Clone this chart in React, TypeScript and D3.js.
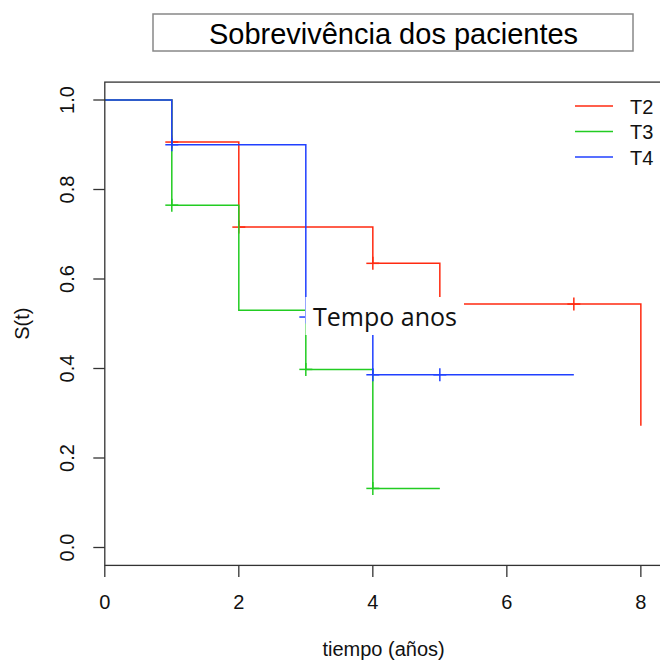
import React from "react";
import * as d3 from "d3";

// ---- data ----
const seriesNames = ["T2", "T3", "T4"];
const seriesColors = ["#ff2a10", "#22cc22", "#2040ff"];

// step times (event times) and survival after each step
const t2Times = [0, 1, 2, 4, 5, 8];
const t2Surv = [1.0, 0.906, 0.716, 0.635, 0.544, 0.272];
const t2End = 8;
const t2Censor = [1, 2, 4, 7];

const t3Times = [0, 1, 2, 3, 4];
const t3Surv = [1.0, 0.765, 0.53, 0.398, 0.132];
const t3End = 5;
const t3Censor = [1, 3, 4];

const t4Times = [0, 1, 3, 4];
const t4Surv = [1.0, 0.9, 0.515, 0.386];
const t4End = 7;
const t4Censor = [1, 3, 4, 5];

const xTicks = [0, 2, 4, 6, 8];
const yTicks = [0, 0.2, 0.4, 0.6, 0.8, 1.0];

const titleText = "Sobrevivência dos pacientes";
const xLabel = "tiempo (años)";
const yLabel = "S(t)";
const noteText = "Tempo anos";

// ---- layout ----
const W = 660;
const H = 664;
const FONT = "'Liberation Sans', Arial, Helvetica, sans-serif";

const x = d3.scaleLinear().domain([0, 8.32]).range([104.8, 662.3]);
const y = d3.scaleLinear().domain([-0.04, 1.04]).range([565.4, 82.1]);

type Series = {
  name: string;
  color: string;
  times: number[];
  surv: number[];
  end: number;
  censor: number[];
};

const series: Series[] = [
  { name: seriesNames[0], color: seriesColors[0], times: t2Times, surv: t2Surv, end: t2End, censor: t2Censor },
  { name: seriesNames[1], color: seriesColors[1], times: t3Times, surv: t3Surv, end: t3End, censor: t3Censor },
  { name: seriesNames[2], color: seriesColors[2], times: t4Times, surv: t4Surv, end: t4End, censor: t4Censor },
];

function stepPoints(s: Series): [number, number][] {
  const pts: [number, number][] = [];
  for (let i = 0; i < s.times.length; i++) {
    pts.push([s.times[i], s.surv[i]]);
    const next = i + 1 < s.times.length ? s.times[i + 1] : s.end;
    if (next > s.times[i]) pts.push([next, s.surv[i]]);
  }
  return pts;
}

function survAt(s: Series, t: number): number {
  let v = s.surv[0];
  for (let i = 0; i < s.times.length; i++) if (s.times[i] <= t) v = s.surv[i];
  return v;
}

const line = d3
  .line<[number, number]>()
  .x((d) => x(d[0]))
  .y((d) => y(d[1]))
  .curve(d3.curveStepAfter);

const CS = 6.5; // censor mark half-size
const SW = 1.5;

export default function App() {
  const fmt = d3.format(".1f");
  return (
    <svg
      width={W}
      height={H}
      style={{ position: "absolute", left: 0, top: 0, background: "#fff" }}
      fontFamily={FONT}
    >
      <rect x={0} y={0} width={W} height={H} fill="#fff" />

      {/* curves */}
      {series.map((s) => (
        <g key={s.name}>
          <path d={line(stepPoints(s)) || ""} fill="none" stroke={s.color} strokeWidth={SW} />
          {s.censor.map((c) => {
            const cx = x(c);
            const cy = y(survAt(s, c));
            return (
              <g key={c} stroke={s.color} strokeWidth={SW}>
                <line x1={cx - CS} x2={cx + CS} y1={cy} y2={cy} />
                <line x1={cx} x2={cx} y1={cy - CS} y2={cy + CS} />
              </g>
            );
          })}
        </g>
      ))}

      {/* frame */}
      <rect
        x={x(0)}
        y={y(1.04)}
        width={x(8.32) - x(0)}
        height={y(-0.04) - y(1.04)}
        fill="none"
        stroke="#333"
        strokeWidth={1.3}
      />

      {/* x axis */}
      {xTicks.map((t) => (
        <g key={"x" + t}>
          <line x1={x(t)} x2={x(t)} y1={y(-0.04)} y2={y(-0.04) + 11.5} stroke="#333" strokeWidth={1.3} />
          <text x={x(t)} y={609} textAnchor="middle" fontSize={20} fill="#111">
            {t}
          </text>
        </g>
      ))}
      {/* y axis */}
      {yTicks.map((t) => (
        <g key={"y" + t}>
          <line x1={x(0) - 11.5} x2={x(0)} y1={y(t)} y2={y(t)} stroke="#333" strokeWidth={1.3} />
          <text
            transform={`translate(74,${y(t)}) rotate(-90)`}
            textAnchor="middle"
            fontSize={20}
            fill="#111"
          >
            {fmt(t)}
          </text>
        </g>
      ))}

      <text x={(x(0) + x(8.32)) / 2} y={656} textAnchor="middle" fontSize={20} fill="#111">
        {xLabel}
      </text>
      <text
        transform={`translate(29,${(y(-0.04) + y(1.04)) / 2}) rotate(-90)`}
        textAnchor="middle"
        fontSize={20}
        fill="#111"
      >
        {yLabel}
      </text>

      {/* legend */}
      {series.map((s, i) => {
        const ly = 106 + i * 25.5;
        return (
          <g key={"lg" + s.name}>
            <line x1={575} x2={613} y1={ly} y2={ly} stroke={s.color} strokeWidth={SW} />
            <text x={630} y={ly + 7.5} fontSize={20} fill="#111">
              {s.name}
            </text>
          </g>
        );
      })}

      {/* overlaid note with white background */}
      <rect x={305.5} y={297} width={158.5} height={38} fill="#fff" />
      <text x={313} y={326} fontSize={25} fill="#111" fontFamily="'Open Sans', sans-serif">
        {noteText}
      </text>

      {/* title box */}
      <rect x={153} y={14} width={480} height={37} fill="#fff" stroke="#888" strokeWidth={1.5} />
      <text x={393.5} y={43.5} textAnchor="middle" fontSize={29} fill="#000">
        {titleText}
      </text>
    </svg>
  );
}
